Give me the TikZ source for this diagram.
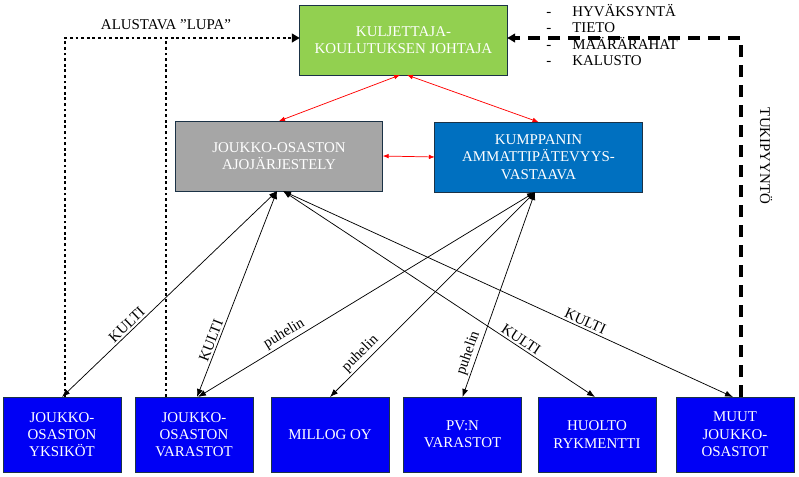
\documentclass[tikz,border=0pt]{standalone}
\usepackage{fontspec}
\setmainfont{Liberation Serif}
\usetikzlibrary{arrows.meta,calc}
\definecolor{cgreen}{HTML}{92D050}
\definecolor{cgray}{HTML}{A6A6A6}
\definecolor{ckump}{HTML}{0070C0}
\definecolor{cblue}{HTML}{0000F5}
\definecolor{cborder}{HTML}{1B3246}
\definecolor{cred}{HTML}{FF0000}
\begin{document}
\begin{tikzpicture}[x=0.75pt,y=-0.75pt,
  box/.style={draw=cborder, line width=0.75pt, text=white, align=center,
    inner sep=0pt, outer sep=0pt, font=\fontsize{11.2}{13}\selectfont},
  topbox/.style={box, minimum width=155.5pt, minimum height=52.5pt},
  lowbox/.style={box, minimum width=88.5pt, minimum height=56.25pt},
  link/.style={draw=black, line width=0.55pt, {Latex[length=6pt,width=4.5pt]}-{Latex[length=6pt,width=4.5pt]}},
  redlink/.style={draw=cred, line width=0.55pt, {Latex[length=4.5pt,width=3.5pt]}-{Latex[length=4.5pt,width=3.5pt]}},
  elabel/.style={font=\fontsize{11.2}{12}\selectfont, sloped, above, inner sep=1.5pt},
  dotline/.style={draw=black, line width=2.1pt, dash pattern=on 2.1pt off 2.1pt, -{Triangle[length=6pt,width=6.5pt]}},
  dashline/.style={draw=black, line width=2.3pt, dash pattern=on 9pt off 6pt, -{Triangle[length=6pt,width=6.5pt]}},
  plain/.style={font=\fontsize{11.2}{12.5}\selectfont}
]
\useasboundingbox (0,0) rectangle (799,476);

% top boxes
\node[topbox, fill=cgreen] (green) at (403.5,40) {KULJETTAJA-\\KOULUTUKSEN JOHTAJA};
\node[topbox, fill=cgray] (gray) at (279,156) {JOUKKO-OSASTON\\AJOJÄRJESTELY};
\node[topbox, fill=ckump] (kump) at (538.5,157) {KUMPPANIN\\AMMATTIPÄTEVYYS-\\VASTAAVA};

% bottom boxes
\node[lowbox, fill=cblue] (b1) at (62,434.5) {JOUKKO-\\OSASTON\\YKSIKÖT};
\node[lowbox, fill=cblue] (b2) at (194,434.5) {JOUKKO-\\OSASTON\\VARASTOT};
\node[lowbox, fill=cblue] (b3) at (330,434.5) {MILLOG OY};
\node[lowbox, fill=cblue] (b4) at (462.5,434.5) {PV:N\\VARASTOT};
\node[lowbox, fill=cblue] (b5) at (597,434.5) {HUOLTO\\RYKMENTTI};
\node[lowbox, fill=cblue] (b6) at (735,434.5) {MUUT\\JOUKKO-\\OSASTOT};

% anchor points
\coordinate (gA) at ([xshift=-1.5pt]gray.south);
\coordinate (gB) at ([xshift=3pt]gray.south);
\coordinate (kB) at ([xshift=-2.6pt]kump.south);
\coordinate (grL) at ([xshift=-2.6pt]green.south);
\coordinate (grR) at ([xshift=2.6pt]green.south);
\coordinate (d1) at ([xshift=2.25pt]b1.north);
\coordinate (d2) at ([xshift=-21pt]b2.north);
\coordinate (d6) at ([xshift=4.5pt]b6.north);
\coordinate (gw) at ([yshift=1.5pt]green.west);
\coordinate (ge) at ([yshift=1.5pt]green.east);

% red links
\draw[redlink] (grL) -- (gray.north);
\draw[redlink] (grR) -- (kump.north);
\draw[redlink] (gray.east) -- (kump.west);

% black links
\draw[link] (gA) -- node[elabel, pos=0.675] {KULTI} (b1.north);
\draw[link] (gA) -- node[elabel, pos=0.74] {KULTI} ([xshift=2.25pt]b2.north);
\draw[link] (kB) -- node[elabel, pos=0.73] {puhelin} ([xshift=3pt]b2.north);
\draw[link] (kB) -- node[elabel, pos=0.82] {puhelin} (b3.north);
\draw[link] (kB) -- node[elabel, pos=0.8] {puhelin} (b4.north);
\draw[link] (gB) -- node[elabel, pos=0.75] {KULTI} ([xshift=-1.5pt]b5.north);
\draw[link] (gB) -- node[elabel, pos=0.665] {KULTI} ([xshift=-1.5pt]b6.north);

% texts
\node[plain] (lupa) at (166,25) {ALUSTAVA ”LUPA”};
\node[plain, rotate=-90] (tuki) at (766,156) {TUKIPYYNTÖ};
\node[plain, anchor=west, inner sep=0pt] (list) at (546,37.5) {%
  \begin{tabular}{@{}p{19.5pt}@{}l@{}}
  - & HYVÄKSYNTÄ\\[-0.3pt]
  - & TIETO\\[-0.3pt]
  - & MÄÄRÄRAHAT\\[-0.3pt]
  - & KALUSTO
  \end{tabular}};

% dotted and dashed
\draw[dotline] (d1) |- (gw);
\draw[draw=black, line width=2.1pt, dash pattern=on 2.1pt off 2.1pt] (d2) -- (d2 |- gw);
\draw[dashline] (d6) |- (ge);
\end{tikzpicture}
\end{document}
